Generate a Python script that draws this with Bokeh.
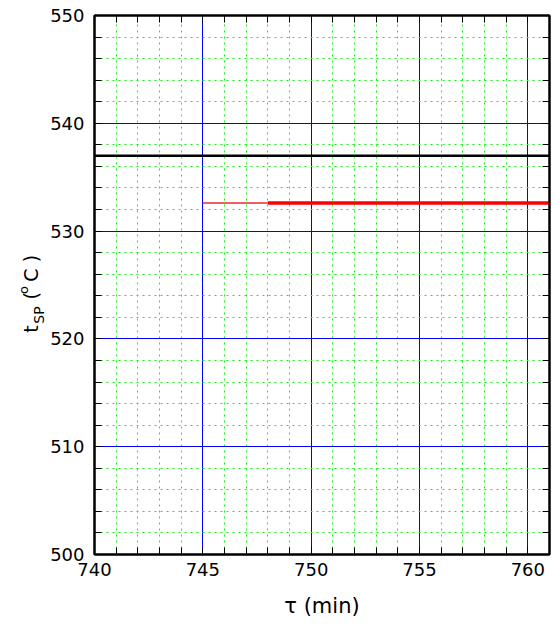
import math
from bokeh.plotting import figure
from bokeh.models import Range1d, FixedTicker, LinearAxis, Label
from bokeh.layouts import row
from bokeh.embed import file_html
from bokeh.resources import INLINE

# ---- data ----
x_major = [740, 745, 750, 755, 760]
x_minor = list(range(740, 762))
y_major = [500, 510, 520, 530, 540, 550]
y_minor = list(range(500, 551, 2))

black_x = [740, 761]
black_y = [537.0, 537.0]
red_light_x = [745, 748]
red_light_y = [532.6, 532.6]
red_x = [748, 761]
red_y = [532.6, 532.6]

X0, X1 = 740, 761
Y0, Y1 = 500, 550
W, H = 555, 626
LW = 47                     # width of the strip that holds the y title
L, R, T, B = 92 - LW, 6, 15, 72
F = "DejaVu Sans"

p = figure(width=W - LW, height=H, output_backend="svg", toolbar_location=None,
           x_range=Range1d(X0, X1), y_range=Range1d(Y0, Y1),
           min_border_left=L, min_border_right=R, min_border_top=T, min_border_bottom=B,
           x_axis_location=None, y_axis_location=None)
p.background_fill_color = "white"
p.border_fill_color = "white"
p.outline_line_color = "black"
p.outline_line_width = 2

xt = FixedTicker(ticks=x_major, minor_ticks=x_minor)
yt = FixedTicker(ticks=y_major, minor_ticks=y_minor)

def style(ax, labels=True):
    ax.axis_line_width = 2
    ax.axis_line_color = "black"
    ax.major_tick_in = 7
    ax.major_tick_out = 0
    ax.minor_tick_in = 7
    ax.minor_tick_out = 0
    ax.major_tick_line_color = "black"
    ax.minor_tick_line_color = "black"
    ax.major_label_text_font = F
    if labels:
        ax.major_label_text_font_size = "18px"
        ax.major_label_text_color = "black"
    else:
        ax.major_label_text_font_size = "1px"
        ax.major_label_text_color = None
        ax.major_label_standoff = 0

xb = LinearAxis(ticker=xt); style(xb); xb.major_label_standoff = 8
xb.axis_label = "τ (min)"
xb.axis_label_text_font = F
xb.axis_label_text_font_size = "21px"
xb.axis_label_text_font_style = "normal"
xb.axis_label_text_color = "black"
xb.axis_label_standoff = 15
yl = LinearAxis(ticker=yt); style(yl); yl.major_label_standoff = 10
xa = LinearAxis(ticker=xt); style(xa, False)
yr = LinearAxis(ticker=yt); style(yr, False)
p.add_layout(xb, "below")
p.add_layout(yl, "left")
p.add_layout(xa, "above")
p.add_layout(yr, "right")

p.xgrid.ticker = xt
p.ygrid.ticker = yt
for g in (p.xgrid, p.ygrid):
    g.grid_line_color = "blue"
    g.grid_line_width = 1
    g.minor_grid_line_color = "#00ff00"
    g.minor_grid_line_width = 1
    g.minor_grid_line_dash = "2 4"

p.line(black_x, black_y, line_color="black", line_width=2.5)
p.line(red_light_x, red_light_y, line_color="#f06060", line_width=2)
p.line(red_x, red_y, line_color="red", line_width=3.5)

# ---- strip on the left holding the composed y title t_SP (°C) ----
# its frame is aligned with the main frame (y from T to H-B), so map pixels 1:1
q = figure(width=LW, height=H, output_backend="svg", toolbar_location=None,
           x_range=Range1d(0, LW), y_range=Range1d(B, H - T),
           min_border_left=0, min_border_right=0, min_border_top=T, min_border_bottom=B,
           x_axis_location=None, y_axis_location=None)
q.outline_line_color = None
q.grid.visible = False
q.background_fill_color = "white"
q.border_fill_color = "white"

def lab(cx, cy, text, size):
    q.add_layout(Label(x=cx, y=H - cy, text=text, angle=math.pi / 2,
                       text_align="center", text_baseline="middle",
                       text_font=F, text_font_size=size, text_color="black"))

lab(30.5, 328.5, "t", "19px")
lab(38.0, 314.5, "SP", "14px")
lab(30.5, 295.3, "(", "19px")
lab(22.5, 289.5, "o", "13px")
lab(30.5, 274.5, "C", "19px")
lab(30.5, 258.0, ")", "19px")

layout = row(q, p, spacing=0)
open("out.html", "w").write(file_html(layout, INLINE))
